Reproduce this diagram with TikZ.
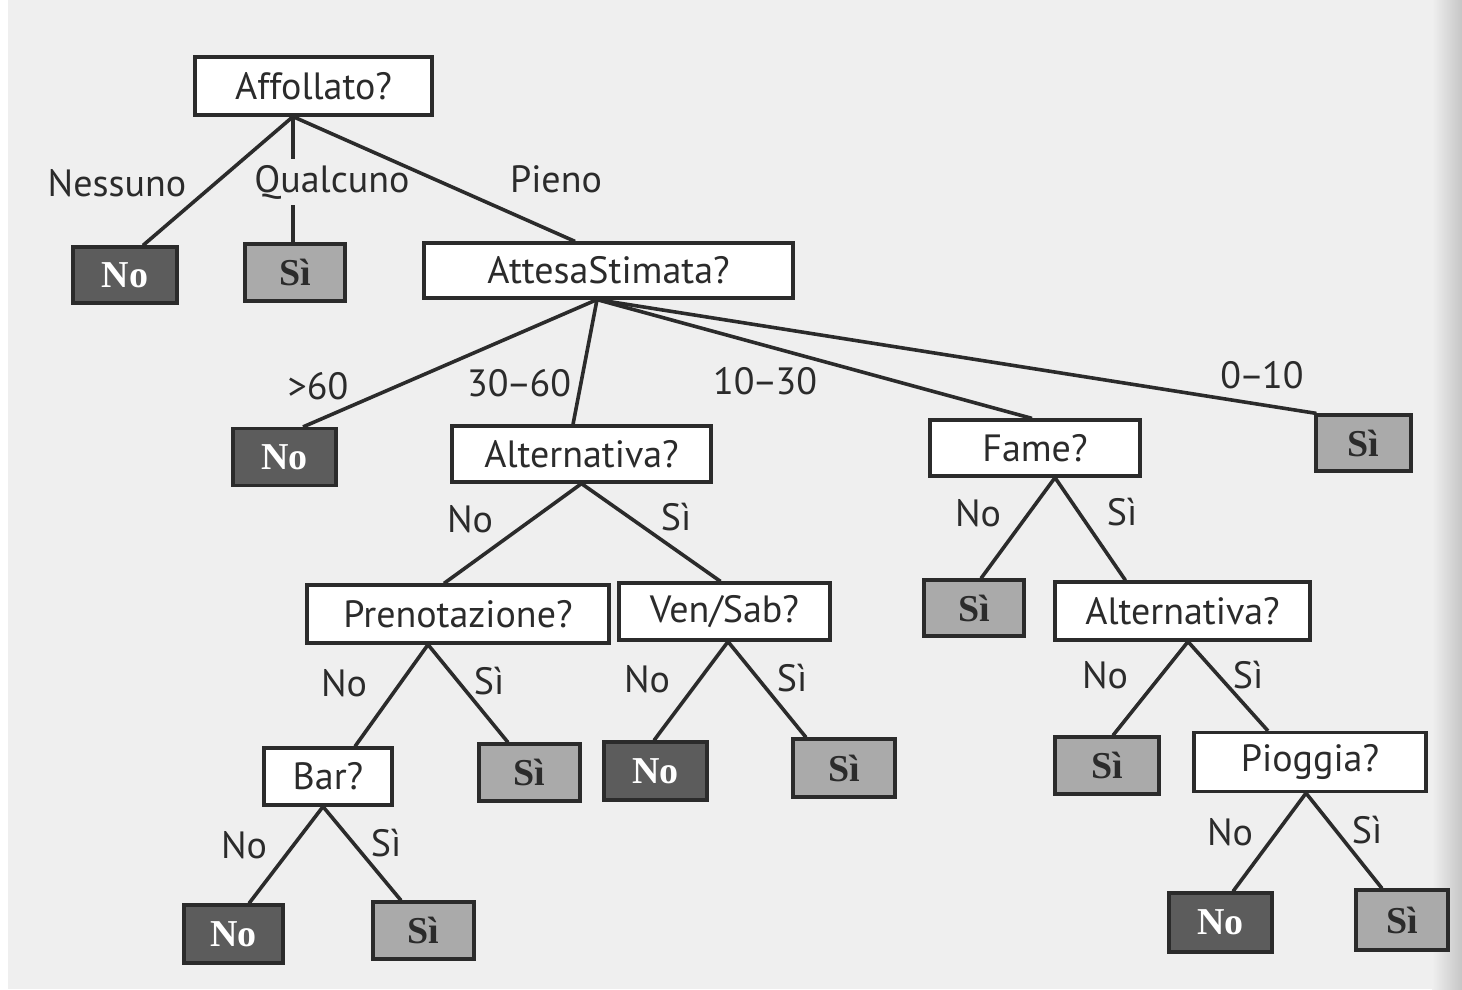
\documentclass[tikz,border=0pt]{standalone}
\usepackage{fontspec}
\setmainfont{PT Sans}
\newfontfamily\leaffont{Liberation Serif}
\definecolor{ink}{HTML}{2B2B2B}
\definecolor{paper}{HTML}{EFEFEF}
\definecolor{darkleaf}{HTML}{5C5C5C}
\definecolor{lightleaf}{HTML}{AAAAAA}
\tikzset{
  qbox/.style={draw=ink, line width=3.2pt, fill=white, inner sep=0pt, text=ink,
    font=\fontsize{38}{42}\selectfont},
  noleaf/.style={draw=ink, line width=3.2pt, fill=darkleaf, inner sep=0pt, text=white,
    font=\leaffont\bfseries\fontsize{38}{42}\selectfont},
  sileaf/.style={draw=ink, line width=3.2pt, fill=lightleaf, inner sep=0pt, text=ink,
    font=\leaffont\bfseries\fontsize{38}{42}\selectfont},
  elab/.style={inner sep=1pt, text=ink, font=\fontsize{38}{42}\selectfont},
  edge/.style={draw=ink, line width=3.6pt}
}
\begin{document}
\begin{tikzpicture}[x=1pt,y=-1pt]
\fill[paper] (0,0) rectangle (1462,989);
\shade[left color=paper, right color=gray!45] (1432,0) rectangle (1462,989);
\fill[white] (0,0) rectangle (8,989);
\useasboundingbox (0,0) rectangle (1462,989);

% internal nodes
\node[qbox, minimum width=237pt, minimum height=58pt] (aff) at (313.5,86) {Affollato?};
\node[qbox, minimum width=369pt, minimum height=55pt] (att) at (608.5,270.5) {AttesaStimata?};
\node[qbox, minimum width=259pt, minimum height=56pt] (alt1) at (581.5,454) {Alternativa?};
\node[qbox, minimum width=210pt, minimum height=56pt] (fame) at (1035,448) {Fame?};
\node[qbox, minimum width=302pt, minimum height=58pt] (pren) at (458,614) {Prenotazione?};
\node[qbox, minimum width=211pt, minimum height=57pt] (vs) at (724.5,611.5) {Ven/Sab?};
\node[qbox, minimum width=255pt, minimum height=58pt] (alt2) at (1182.5,611) {Alternativa?};
\node[qbox, minimum width=128pt, minimum height=57pt] (bar) at (328,776.5) {Bar?};
\node[qbox, minimum width=232pt, minimum height=59pt] (pio) at (1310,762) {Pioggia?};

% leaves
\node[noleaf, minimum width=104pt, minimum height=56pt] (l1) at (125,275) {No};
\node[sileaf, minimum width=100pt, minimum height=57pt] (l2) at (295,272.5) {Sì};
\node[noleaf, minimum width=103pt, minimum height=57pt] (l3) at (284.5,457) {No};
\node[sileaf, minimum width=95pt, minimum height=56pt] (l4) at (1363.5,443) {Sì};
\node[sileaf, minimum width=100pt, minimum height=56pt] (l5) at (974,608) {Sì};
\node[sileaf, minimum width=101pt, minimum height=57pt] (l6) at (529.5,772.5) {Sì};
\node[noleaf, minimum width=103pt, minimum height=58pt] (l7) at (655.5,771) {No};
\node[sileaf, minimum width=102pt, minimum height=58pt] (l8) at (844,768) {Sì};
\node[sileaf, minimum width=104pt, minimum height=57pt] (l9) at (1107,765.5) {Sì};
\node[noleaf, minimum width=103pt, minimum height=59pt] (l10) at (1220.5,922.5) {No};
\node[sileaf, minimum width=92pt, minimum height=60pt] (l11) at (1402,920) {Sì};
\node[noleaf, minimum width=99pt, minimum height=58pt] (l12) at (233.5,934) {No};
\node[sileaf, minimum width=101pt, minimum height=57pt] (l13) at (423.5,930.5) {Sì};

% edge labels
\node[elab] (e1) at (117,183) {Nessuno};
\node[elab, inner sep=6pt] (e2) at (332,182) {Qualcuno};
\node[elab] (e3) at (556,179) {Pieno};
\node[elab] (e4) at (318,386) {>60};
\node[elab] (e5) at (519,383) {30\kern-2pt–\kern-2pt60};
\node[elab] (e6) at (765,381) {10\kern-2pt–\kern-2pt30};
\node[elab] (e7) at (1262,375) {0\kern-2pt–\kern-2pt10};
\node[elab] (e8) at (470,519) {No};
\node[elab] (e9) at (676,517) {Sì};
\node[elab] (e10) at (978,513) {No};
\node[elab] (e11) at (1122,512) {Sì};
\node[elab] (e12) at (344,683) {No};
\node[elab] (e13) at (489,681) {Sì};
\node[elab] (e14) at (647,679) {No};
\node[elab] (e15) at (792,678) {Sì};
\node[elab] (e16) at (1105,675) {No};
\node[elab] (e17) at (1248,675) {Sì};
\node[elab] (e18) at (244,845) {No};
\node[elab] (e19) at (386,843) {Sì};
\node[elab] (e20) at (1230,832) {No};
\node[elab] (e21) at (1367,830) {Sì};

% edges
\coordinate (affb) at ([xshift=-20.5pt]aff.south);
\draw[edge] (affb) -- ([xshift=18pt]l1.north);
\draw[edge] (affb) -- (affb |- e2.north);
\draw[edge] (affb |- e2.south) -- ([xshift=-2pt]l2.north);
\draw[edge] (affb) -- ([xshift=-33.5pt]att.north);

\draw[edge] ([xshift=-11.5pt]att.south) -- ([xshift=18.5pt]l3.north);
\draw[edge] ([xshift=-11.5pt]att.south) -- ([xshift=-8.5pt]alt1.north);
\draw[edge] ([xshift=-11.5pt]att.south) -- ([xshift=-3pt]fame.north);
\draw[edge] ([xshift=-11.5pt]att.south) -- ([xshift=2pt]l4.north west);

\draw[edge] (alt1.south) -- ([xshift=-14pt]pren.north);
\draw[edge] (alt1.south) -- ([xshift=-4pt]vs.north);

\draw[edge] ([xshift=20pt]fame.south) -- ([xshift=7pt]l5.north);
\draw[edge] ([xshift=20pt]fame.south) -- ([xshift=-57pt]alt2.north);

\draw[edge] ([xshift=-30pt]pren.south) -- ([xshift=27pt]bar.north);
\draw[edge] ([xshift=-30pt]pren.south) -- ([xshift=-21.5pt]l6.north);

\draw[edge] ([xshift=3.5pt]vs.south) -- ([xshift=-1.5pt]l7.north);
\draw[edge] ([xshift=3.5pt]vs.south) -- ([xshift=-38pt]l8.north);

\draw[edge] ([xshift=5.5pt]alt2.south) -- ([xshift=6pt]l9.north);
\draw[edge] ([xshift=5.5pt]alt2.south) -- ([xshift=-42pt]pio.north);

\draw[edge] ([xshift=-5pt]bar.south) -- ([xshift=15.5pt]l12.north);
\draw[edge] ([xshift=-5pt]bar.south) -- ([xshift=-22.5pt]l13.north);

\draw[edge] ([xshift=-4pt]pio.south) -- ([xshift=12.5pt]l10.north);
\draw[edge] ([xshift=-4pt]pio.south) -- ([xshift=-20pt]l11.north);
\end{tikzpicture}
\end{document}
